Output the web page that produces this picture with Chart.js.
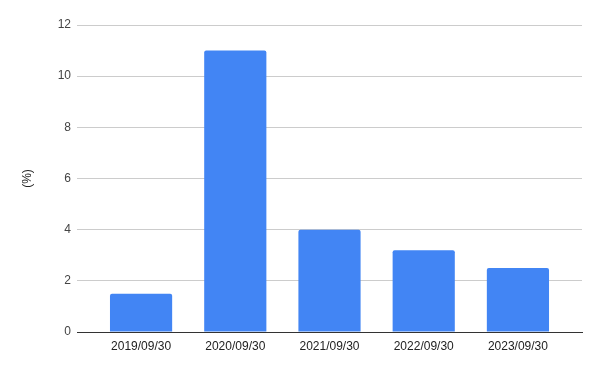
<!DOCTYPE html>
<html>
<head>
<meta charset="utf-8">
<script src="https://cdn.jsdelivr.net/npm/chart.js@4"></script>
<style>
  html, body { margin: 0; padding: 0; background: #fff; }
  #wrap { width: 600px; height: 371px; }
</style>
</head>
<body>
<div id="wrap"><canvas id="barChart"></canvas></div>
<script>
var Categories = ['2019/09/30', '2020/09/30', '2021/09/30', '2022/09/30', '2023/09/30'];
var Values = [1.5, 11, 4, 3.2, 2.5];
var YTicks = [0, 2, 4, 6, 8, 10, 12];

Chart.defaults.font.family = "'Liberation Sans', Arial, sans-serif";
Chart.defaults.font.size = 12;

var BarData = {
    datasets: [{
        label: '(%)',
        data: Values.map(function (v, i) { return { x: i, y: v }; }),
        backgroundColor: '#4285F4',
        borderRadius: 2,
        barPercentage: 0.66,
        categoryPercentage: 1
    }]
};

var BarConfig = {
    type: 'bar',
    data: BarData,
    options: {
        responsive: true,
        maintainAspectRatio: false,
        animation: false,
        layout: { padding: { top: 25, right: 18, left: 0, bottom: 0 } },
        plugins: {
            legend: { display: false },
            tooltip: { enabled: false }
        },
        scales: {
            x: {
                type: 'linear',
                offset: false,
                min: -0.68,
                max: 4.68,
                grid: { display: false, drawTicks: false },
                border: { display: true, color: '#333', width: 1 },
                afterBuildTicks: function (s) {
                    s.ticks = Categories.map(function (_, i) { return { value: i }; });
                },
                ticks: {
                    color: '#222',
                    padding: 7,
                    autoSkip: false,
                    maxRotation: 0,
                    callback: function (v) { return Categories[v]; }
                },
                afterFit: function (s) { s.height = 39; }
            },
            y: {
                min: 0,
                max: 12,
                afterBuildTicks: function (s) {
                    s.ticks = YTicks.map(function (v) { return { value: v }; });
                },
                grid: { color: '#cccccc', drawTicks: false },
                border: { display: false },
                ticks: { color: '#444', padding: 6 },
                title: {
                    display: true,
                    text: '(%)',
                    color: '#222',
                    padding: { top: 20, bottom: 0 }
                },
                afterFit: function (s) { s.width = 77; }
            }
        }
    }
};

var barChart = new Chart(document.getElementById('barChart'), BarConfig);
</script>
</body>
</html>
